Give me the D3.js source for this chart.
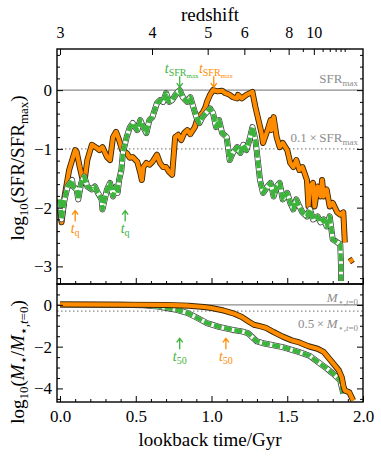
<!DOCTYPE html>
<html>
<head>
<meta charset="utf-8">
<script src="https://cdn.jsdelivr.net/npm/d3@7"></script>
<style>
body { margin: 0; background: #fff; }
svg { font-family: "Liberation Serif", "DejaVu Serif", serif; }
</style>
</head>
<body>
<div id="chart"></div>
<script>
// star formation history, log10(SFR/SFRmax) vs lookback time [Gyr]
var orangeSfr = [[0.00,-2.03],[0.01,-2.25],[0.03,-1.81],[0.06,-1.36],[0.10,-1.02],[0.11,-1.05],[0.13,-1.31],[0.15,-1.53],[0.16,-1.58],[0.18,-1.19],[0.21,-0.93],[0.24,-0.98],[0.26,-1.02],[0.28,-0.97],[0.31,-1.14],[0.33,-1.19],[0.35,-0.80],[0.37,-0.71],[0.39,-0.85],[0.41,-1.02],[0.44,-1.07],[0.46,-1.15],[0.48,-1.14],[0.51,-1.22],[0.53,-1.41],[0.54,-1.53],[0.55,-1.31],[0.57,-1.24],[0.59,-1.27],[0.61,-1.22],[0.64,-1.10],[0.66,-1.24],[0.68,-1.31],[0.70,-1.31],[0.72,-1.39],[0.74,-1.44],[0.76,-0.80],[0.78,-0.76],[0.80,-0.85],[0.82,-0.73],[0.84,-0.68],[0.86,-0.75],[0.89,-0.63],[0.91,-0.46],[0.94,-0.39],[0.96,-0.29],[0.97,-0.20],[0.99,-0.08],[1.01,0.00],[1.04,-0.02],[1.07,-0.01],[1.09,-0.05],[1.12,-0.08],[1.14,-0.12],[1.17,-0.14],[1.175,-0.08],[1.20,-0.14],[1.23,-0.08],[1.27,-0.03],[1.29,-0.29],[1.31,-0.51],[1.33,-0.73],[1.34,-0.90],[1.37,-0.68],[1.39,-0.51],[1.395,-0.68],[1.41,-0.46],[1.43,-0.80],[1.45,-0.97],[1.47,-0.90],[1.50,-1.02],[1.52,-1.24],[1.54,-1.31],[1.56,-1.19],[1.58,-1.36],[1.60,-1.31],[1.63,-1.53],[1.64,-1.98],[1.65,-1.64],[1.67,-1.58],[1.68,-1.98],[1.70,-1.64],[1.72,-1.81],[1.73,-1.53],[1.74,-1.81],[1.76,-1.69],[1.78,-1.98],[1.80,-1.92],[1.83,-2.08],[1.85,-2.12],[1.87,-2.08],[1.88,-2.59],[1.895,null],[1.91,-2.92],[1.935,-2.88]];
var greenSfr = [[0.00,-1.86],[0.01,-2.20],[0.03,-1.86],[0.05,-1.64],[0.08,-1.53],[0.085,-1.64],[0.11,-1.69],[0.12,-1.86],[0.14,-1.58],[0.16,-1.47],[0.18,-1.64],[0.21,-1.69],[0.23,-1.64],[0.25,-1.75],[0.275,-1.86],[0.28,-2.03],[0.31,-1.69],[0.33,-1.58],[0.35,-1.81],[0.37,-1.64],[0.38,-1.75],[0.39,-1.53],[0.405,-1.36],[0.415,-1.07],[0.44,-0.80],[0.46,-0.64],[0.48,-0.56],[0.51,-0.68],[0.53,-0.51],[0.55,-0.63],[0.57,-0.73],[0.59,-0.51],[0.61,-0.46],[0.64,-0.22],[0.66,-0.17],[0.68,-0.20],[0.70,-0.05],[0.72,-0.20],[0.74,-0.17],[0.77,-0.05],[0.79,0.00],[0.81,-0.12],[0.84,-0.20],[0.86,-0.12],[0.88,-0.29],[0.90,-0.46],[0.92,-0.56],[0.94,-0.46],[0.97,-0.37],[0.99,-0.31],[1.01,-0.39],[1.03,-0.63],[1.05,-0.51],[1.07,-0.73],[1.10,-0.80],[1.12,-1.19],[1.14,-1.07],[1.17,-0.97],[1.19,-1.07],[1.21,-0.93],[1.23,-1.02],[1.25,-0.85],[1.27,-0.63],[1.29,-0.85],[1.30,-1.07],[1.32,-1.53],[1.34,-1.75],[1.37,-1.64],[1.39,-1.58],[1.41,-1.81],[1.43,-1.64],[1.45,-1.58],[1.47,-1.86],[1.50,-1.75],[1.52,-1.92],[1.54,-2.03],[1.56,-1.86],[1.58,-1.98],[1.60,-2.08],[1.63,-2.15],[1.65,-2.03],[1.67,-2.20],[1.70,-2.15],[1.72,-2.25],[1.74,-2.20],[1.76,-2.32],[1.78,-2.15],[1.80,-2.54],[1.83,-2.59],[1.85,-2.62],[1.855,-3.00],[1.855,-3.25]];

// cumulative stellar mass, log10(M*/M*,t=0)
var orangeMass = [[0.00,0.02],[0.40,0.01],[0.70,0.00],[0.85,-0.04],[0.95,-0.10],[1.00,-0.15],[1.08,-0.27],[1.15,-0.42],[1.20,-0.58],[1.25,-0.82],[1.28,-0.95],[1.32,-1.02],[1.36,-1.10],[1.41,-1.30],[1.47,-1.52],[1.53,-1.70],[1.58,-1.80],[1.64,-1.98],[1.70,-2.10],[1.74,-2.25],[1.78,-2.60],[1.84,-3.13],[1.86,-3.47],[1.87,-3.86],[1.88,-4.10],[1.91,-4.19],[1.935,-4.58]];
var greenMass = [[0.00,0.02],[0.40,0.01],[0.55,-0.02],[0.65,-0.08],[0.72,-0.17],[0.77,-0.24],[0.84,-0.38],[0.90,-0.60],[0.97,-0.87],[1.05,-1.05],[1.14,-1.20],[1.20,-1.27],[1.24,-1.35],[1.27,-1.55],[1.30,-1.75],[1.35,-1.85],[1.47,-2.02],[1.58,-2.26],[1.65,-2.45],[1.715,-2.80],[1.76,-3.04],[1.80,-3.28],[1.85,-3.61],[1.86,-3.95],[1.87,-4.24]];

// markers (lookback time, Gyr)
var tQ = [0.10, 0.43];          // orange, green
var tSfrMax = [1.015, 0.79];    // orange, green
var t50 = [1.095, 0.79];        // orange, green

var zMajor = [3, 4, 5, 6, 8, 10],
    zMinor = [7, 9, 11, 12, 13, 14, 15];
var sfrTicks = [0, -1, -2, -3],
    massTicks = [0, -2, -4],
    timeTicks = [0, 0.5, 1.0, 1.5, 2.0];

var orange = '#ff8c00',
    green = '#3cb43c',
    grey = '#8c8c8c';

var width = 381, height = 456;
var left = 57, right = 363, topY = 49, midY = 284, botY = 402;

var x = d3.scaleLinear().domain([-0.02, 2.0]).range([left, right]);
var ySfr = d3.scaleLinear().domain([-3.3, 0.7]).range([midY, topY]);
var yMass = d3.scaleLinear().domain([-4.65, 1]).range([botY, midY]);

// flat LCDM age, lookback measured from z = 3
function ageGyr(z) {
    var om = 0.31, ol = 0.69, th = 977.8 / 67.7;
    return th * 2 / (3 * Math.sqrt(ol)) * Math.asinh(Math.sqrt(ol / om) * Math.pow(1 + z, -1.5));
}
function lookback(z) { return ageGyr(3) - ageGyr(z); }

var svg = d3.select('#chart').append('svg').attr('width', width).attr('height', height);

var defs = svg.append('defs');
defs.append('clipPath').attr('id', 'clipTop').append('rect')
    .attr('x', left).attr('y', topY).attr('width', right - left).attr('height', midY - topY);
defs.append('clipPath').attr('id', 'clipBot').append('rect')
    .attr('x', left).attr('y', midY).attr('width', right - left).attr('height', botY - midY);

function minorRange(a, b, step, skip) {
    return d3.range(Math.round(a / step), Math.round(b / step) + 1).map(function(i) { return +(i * step).toFixed(3); })
        .filter(function(v) { return skip.indexOf(v) < 0; });
}

function styleAxis(g, size) {
    g.select('.domain').remove();
    g.attr('font-family', '"Liberation Serif", serif').attr('font-size', size);
    g.selectAll('line').attr('stroke', '#000').attr('stroke-width', 1);
}

// reference lines
var refs = svg.append('g');
refs.append('line').attr('x1', left).attr('x2', right).attr('y1', ySfr(0)).attr('y2', ySfr(0))
    .attr('stroke', grey).attr('stroke-width', 1.3);
refs.append('line').attr('x1', left).attr('x2', right).attr('y1', ySfr(-1)).attr('y2', ySfr(-1))
    .attr('stroke', grey).attr('stroke-width', 1.3).attr('stroke-dasharray', '1.5,2.5');
refs.append('line').attr('x1', left).attr('x2', right).attr('y1', yMass(0)).attr('y2', yMass(0))
    .attr('stroke', grey).attr('stroke-width', 1.3);
refs.append('line').attr('x1', left).attr('x2', right).attr('y1', yMass(Math.log10(0.5))).attr('y2', yMass(Math.log10(0.5)))
    .attr('stroke', grey).attr('stroke-width', 1.3).attr('stroke-dasharray', '1.5,2.5');

// curves
function drawOrange(g, data, y) {
    var line = d3.line().defined(function(d) { return d[1] !== null; })
        .x(function(d) { return x(d[0]); }).y(function(d) { return y(d[1]); });
    g.append('path').datum(data).attr('d', line).attr('fill', 'none')
        .attr('stroke', '#3a2500').attr('stroke-width', 6).attr('stroke-linejoin', 'round').attr('stroke-linecap', 'butt');
    g.append('path').datum(data).attr('d', line).attr('fill', 'none')
        .attr('stroke', orange).attr('stroke-width', 4.2).attr('stroke-linejoin', 'round').attr('stroke-linecap', 'butt');
}
function drawGreen(g, data, y) {
    var line = d3.line().x(function(d) { return x(d[0]); }).y(function(d) { return y(d[1]); });
    g.append('path').datum(data).attr('d', line).attr('fill', 'none')
        .attr('stroke', '#444').attr('stroke-width', 6).attr('stroke-linejoin', 'round');
    g.append('path').datum(data).attr('d', line).attr('fill', 'none')
        .attr('stroke', '#fff').attr('stroke-width', 4.4).attr('stroke-linejoin', 'round');
    g.append('path').datum(data).attr('d', line).attr('fill', 'none')
        .attr('stroke', green).attr('stroke-width', 4.4).attr('stroke-linejoin', 'round')
        .attr('stroke-dasharray', '8,2.5');
}

var gTop = svg.append('g').attr('clip-path', 'url(#clipTop)');
drawOrange(gTop, orangeSfr, ySfr);
drawGreen(gTop, greenSfr, ySfr);
var gBot = svg.append('g').attr('clip-path', 'url(#clipBot)');
drawGreen(gBot, greenMass, yMass);
drawOrange(gBot, orangeMass, yMass);

// frames
svg.append('rect').attr('x', left).attr('y', topY).attr('width', right - left).attr('height', midY - topY)
    .attr('fill', 'none').attr('stroke', '#000').attr('stroke-width', 1.4);
svg.append('rect').attr('x', left).attr('y', midY).attr('width', right - left).attr('height', botY - midY)
    .attr('fill', 'none').attr('stroke', '#000').attr('stroke-width', 1.4);

// x axes (ticks inside)
var xMinor = minorRange(0, 2, 0.1, timeTicks);
[midY, botY].forEach(function(yy) {
    svg.append('g').attr('transform', 'translate(0,' + yy + ')')
        .call(d3.axisBottom(x).tickValues(xMinor).tickSize(-3).tickFormat(''))
        .call(function(g) { styleAxis(g, 17); });
    svg.append('g').attr('transform', 'translate(0,' + yy + ')')
        .call(d3.axisBottom(x).tickValues(timeTicks).tickSize(-6).tickPadding(8)
            .tickFormat(yy === botY ? d3.format('.1f') : ''))
        .call(function(g) { styleAxis(g, 17); });
});

// redshift axis on top
svg.append('g').attr('transform', 'translate(0,' + topY + ')')
    .call(d3.axisTop(x).tickValues(zMinor.map(lookback)).tickSize(-3).tickFormat(''))
    .call(function(g) { styleAxis(g, 16); });
svg.append('g').attr('transform', 'translate(0,' + topY + ')')
    .call(d3.axisTop(x).tickValues(zMajor.map(lookback)).tickSize(-6).tickPadding(11)
        .tickFormat(function(d, i) { return zMajor[i]; }))
    .call(function(g) { styleAxis(g, 16); });

// y axes
function yAxes(scale, major, minor) {
    svg.append('g').attr('transform', 'translate(' + left + ',0)')
        .call(d3.axisLeft(scale).tickValues(minor).tickSize(-3).tickFormat(''))
        .call(function(g) { styleAxis(g, 17); });
    svg.append('g').attr('transform', 'translate(' + left + ',0)')
        .call(d3.axisLeft(scale).tickValues(major).tickSize(-6).tickPadding(5).tickFormat(d3.format('d')))
        .call(function(g) { styleAxis(g, 17); });
    svg.append('g').attr('transform', 'translate(' + right + ',0)')
        .call(d3.axisRight(scale).tickValues(minor).tickSize(-3).tickFormat(''))
        .call(function(g) { styleAxis(g, 17); });
    svg.append('g').attr('transform', 'translate(' + right + ',0)')
        .call(d3.axisRight(scale).tickValues(major).tickSize(-6).tickFormat(''))
        .call(function(g) { styleAxis(g, 17); });
}
yAxes(ySfr, sfrTicks, minorRange(-3.2, 0.6, 0.2, sfrTicks));
yAxes(yMass, massTicks, minorRange(-4.5, 1, 0.5, massTicks));

// rich text helper: parts [text, size, shift, italic]
function richText(g, parts, attrs) {
    var t = g.append('text');
    Object.keys(attrs).forEach(function(k) { t.attr(k, attrs[k]); });
    parts.forEach(function(p) {
        var s = t.append('tspan').text(p[0]).attr('font-size', p[1]);
        if (p[2]) s.attr('baseline-shift', p[2]);
        if (p[3]) s.attr('font-style', 'italic');
    });
    return t;
}

// axis titles
svg.append('text').attr('x', (left + right) / 2).attr('y', 21).attr('text-anchor', 'middle')
    .attr('font-size', 19).text('redshift');
svg.append('text').attr('x', (left + right) / 2).attr('y', 446).attr('text-anchor', 'middle')
    .attr('font-size', 19).text('lookback time/Gyr');
richText(svg, [['log', 19], ['10', 13, '-4'], ['(SFR/SFR', 19], ['max', 13, '-4'], [')', 19]],
    { transform: 'translate(24,168) rotate(-90)', 'text-anchor': 'middle' });
richText(svg, [['log', 19], ['10', 13, '-4'], ['(', 19], ['M', 19, null, true], ['\u22c6', 13, '-4'], ['/', 19],
    ['M', 19, null, true], ['\u22c6,', 13, '-4'], ['t', 13, '-4', true], ['=0', 13, '-4'], [')', 19]],
    { transform: 'translate(24,362) rotate(-90)', 'text-anchor': 'middle' });

// reference line labels
richText(svg, [['SFR', 13], ['max', 9, '-3']],
    { x: 358, y: ySfr(0) - 7, 'text-anchor': 'end', fill: grey });
richText(svg, [['0.1\u2009\u00d7\u2009SFR', 13], ['max', 9, '-3']],
    { x: 358, y: ySfr(-1) - 7, 'text-anchor': 'end', fill: grey });
richText(svg, [['M', 13, null, true], ['\u22c6,', 9, '-3'], ['t', 9, '-3', true], ['=0', 9, '-3']],
    { x: 358, y: yMass(0) - 3, 'text-anchor': 'end', fill: grey });
richText(svg, [['0.5\u2009\u00d7\u2009', 13], ['M', 13, null, true], ['\u22c6,', 9, '-3'], ['t', 9, '-3', true], ['=0', 9, '-3']],
    { x: 358, y: yMass(Math.log10(0.5)) + 17, 'text-anchor': 'end', fill: grey });

// arrows
function arrow(cx, tipY, dir, color) {
    var len = 11 * dir;
    svg.append('path')
        .attr('d', 'M' + cx + ',' + (tipY + len) + 'L' + cx + ',' + tipY +
            'M' + (cx - 3) + ',' + (tipY + 4 * dir) + 'L' + cx + ',' + tipY + 'L' + (cx + 3) + ',' + (tipY + 4 * dir))
        .attr('fill', 'none').attr('stroke', color).attr('stroke-width', 1.3);
}
var colors = [orange, green];
tQ.forEach(function(t, i) {
    arrow(x(t), ySfr(-2.05), 1, colors[i]);
    richText(svg, [['t', 14, null, true], ['q', 10, '-3']],
        { x: x(t), y: ySfr(-2.05) + 22, 'text-anchor': 'middle', fill: colors[i] });
});
tSfrMax.forEach(function(t, i) {
    arrow(x(t), ySfr(0.05), -1, colors[i]);
    richText(svg, [['t', 14, null, true], ['SFR', 10, '-3'], ['max', 7, '-5']],
        { x: x(t) + 2, y: ySfr(0.05) - 14, 'text-anchor': 'middle', fill: colors[i] });
});
t50.forEach(function(t, i) {
    arrow(x(t), yMass(-1.6), 1, colors[i]);
    richText(svg, [['t', 14, null, true], ['50', 10, '-3']],
        { x: x(t), y: yMass(-1.6) + 23, 'text-anchor': 'middle', fill: colors[i] });
});
</script>
</body>
</html>
